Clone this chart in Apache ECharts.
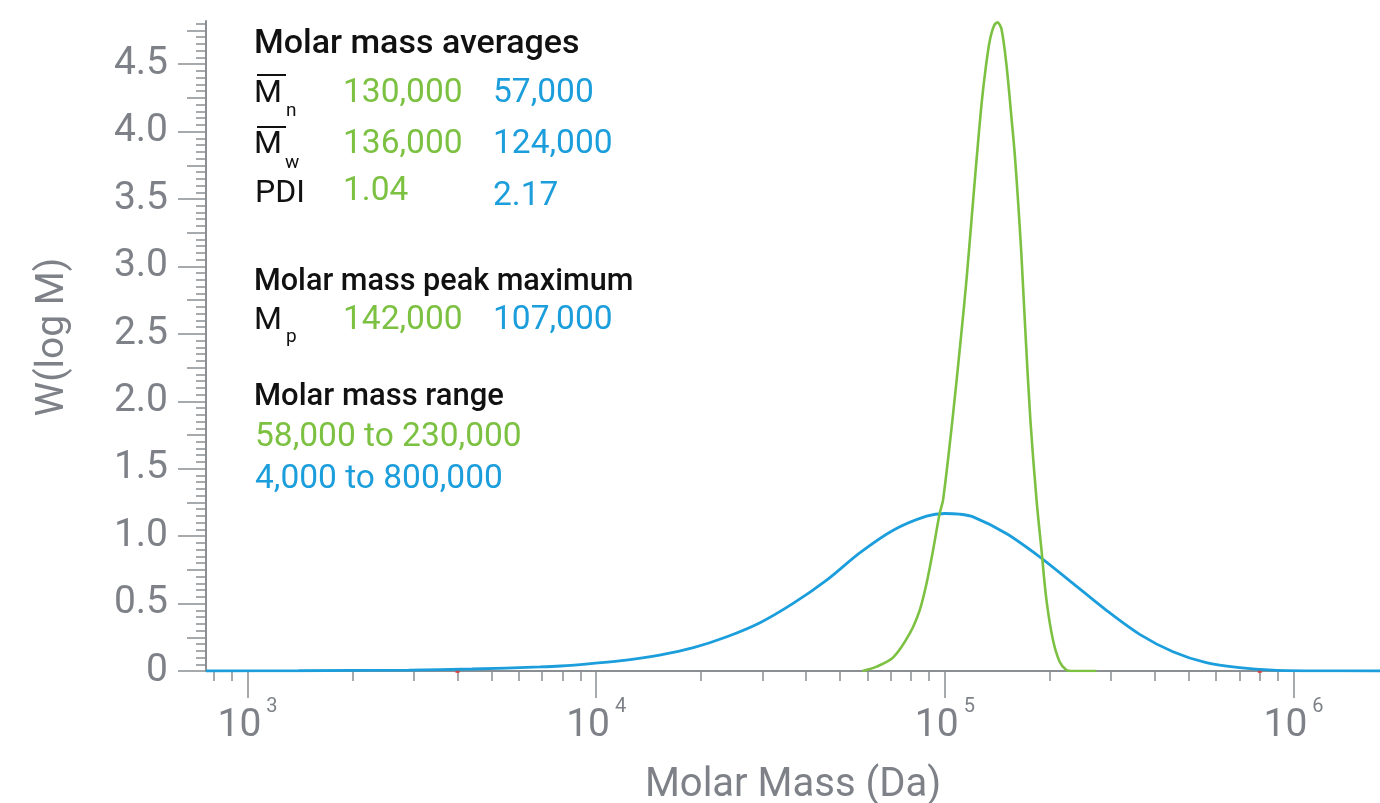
<!DOCTYPE html>
<html>
<head>
<meta charset="utf-8">
<script src="https://cdn.jsdelivr.net/npm/echarts@6/dist/echarts.min.js"></script>
<style>
  html, body { margin: 0; padding: 0; background: #ffffff; }
  #chart { width: 1380px; height: 803px; }
</style>
</head>
<body>
<div id="chart"></div>
<script>
// Molar mass distributions, W(log M) versus M (Da)
const narrowMass = [58000, 63700, 71100, 79300, 84700, 88600, 92500, 96600, 98800, 105000, 111100, 115300,
  119200, 123200, 127400, 131000, 134500, 138300, 141500, 145300, 150100, 155200, 158600, 162100,
  165700, 170600, 176000, 183200, 189300, 195600, 204200, 213400, 223000, 230000, 272000];
const narrowW = [0, 0.032, 0.101, 0.279, 0.452, 0.65, 0.896, 1.168, 1.267, 1.85, 2.464, 2.896,
  3.341, 3.785, 4.205, 4.476, 4.674, 4.785, 4.81, 4.76, 4.50, 4.106, 3.835, 3.489,
  3.094, 2.464, 1.85, 1.267, 0.896, 0.526, 0.23, 0.069, 0.007, 0, 0];

const broadMass = [760, 1400, 2900, 4400, 6900, 7900, 9800, 12200, 15200, 19000, 23700, 29500, 36700,
  45800, 57000, 71100, 88600, 100000, 110000, 120500, 150000, 187000, 233000, 290000, 362000,
  451000, 562000, 700000, 873000, 1190000, 1770000];
const broadW = [0, 0.002, 0.007, 0.015, 0.03, 0.037, 0.057, 0.081, 0.118, 0.173, 0.254, 0.358, 0.501,
  0.674, 0.876, 1.044, 1.148, 1.168, 1.163, 1.143, 1.02, 0.847, 0.65, 0.452, 0.272,
  0.143, 0.062, 0.025, 0.007, 0.001, 0];

// range limits marked on the baseline
const rangeMarks = [4000, 800000];

// axis extents and tick labels
const massMin = 760;
const massMax = 1770000;
const decadeExponents = [3, 4, 5, 6];
const yMax = 4.82;
const yMajorTicks = [0, 0.5, 1.0, 1.5, 2.0, 2.5, 3.0, 3.5, 4.0, 4.5];

// summary table values
const avgRows = [
  { sub: 'n', narrow: '130,000', broad: '57,000' },
  { sub: 'w', narrow: '136,000', broad: '124,000' }
];
const pdiValues = ['1.04', '2.17'];
const peakValues = ['142,000', '107,000'];
const rangeTexts = ['58,000 to 230,000', '4,000 to 800,000'];

const GREEN = '#7cc142';
const BLUE = '#1b9edb';
const GRAY = '#7e8288';
const AXIS = '#8b8e93';
const FONT = 'Roboto, "Noto Sans", sans-serif';

const lg = Math.log10;
const toPoints = (mass, w) => mass.map((m, i) => [lg(m), w[i]]);

// tick positions (log10 space for the mass axis)
const minorMass = [];
for (let e = 2; e <= 6; e++) {
  for (let k = 2; k <= 9; k++) {
    const v = k * Math.pow(10, e);
    if (v >= massMin && v <= massMax) minorMass.push(lg(v));
  }
}
const yMinor = [], yMid = [];
for (let i = 0; i * 0.05 <= yMax + 1e-9; i++) yMinor.push(+(i * 0.05).toFixed(2));
for (let i = 0; i * 0.25 <= yMax + 1e-9; i++) yMid.push(+(i * 0.25).toFixed(2));

const chart = echarts.init(document.getElementById('chart'), null, { renderer: 'canvas' });

const baseX = {
  type: 'value', min: lg(massMin), max: lg(massMax), position: 'bottom',
  splitLine: { show: false }
};
const baseY = {
  type: 'value', min: 0, max: yMax, position: 'left',
  splitLine: { show: false }
};

// text helper: y is the vertical centre of the glyph line
function txt(x, y, text, size, color, weight) {
  return {
    type: 'text', x: x, y: y, silent: true, z: 10,
    style: {
      text: text, fill: color, verticalAlign: 'middle', align: 'left',
      font: (weight || 400) + ' ' + size + 'px ' + FONT
    }
  };
}
function overline(x1, x2, y) {
  return {
    type: 'line', silent: true, z: 10,
    shape: { x1: x1, y1: y, x2: x2, y2: y },
    style: { stroke: '#111111', lineWidth: 2 }
  };
}

const VS = 33.5; // value text size
const graphics = [
  txt(254, 44, 'Molar mass averages', 34, '#111111', 500),
  overline(257, 286, 75),
  txt(254, 94, 'M', 32, '#111111'),
  txt(286, 111, avgRows[0].sub, 19, '#111111'),
  txt(343, 94, avgRows[0].narrow, VS, GREEN),
  txt(493, 94, avgRows[0].broad, VS, BLUE),
  overline(257, 286, 127),
  txt(254, 145, 'M', 32, '#111111'),
  txt(285, 163, avgRows[1].sub, 19, '#111111'),
  txt(343, 145, avgRows[1].narrow, VS, GREEN),
  txt(493, 145, avgRows[1].broad, VS, BLUE),
  txt(255, 194, 'PDI', 32, '#111111'),
  txt(343, 192, pdiValues[0], VS, GREEN),
  txt(493, 197, pdiValues[1], VS, BLUE),
  txt(254, 282, 'Molar mass peak maximum', 30.6, '#111111', 500),
  txt(254, 321, 'M', 32, '#111111'),
  txt(286, 337, 'p', 19, '#111111'),
  txt(343, 321, peakValues[0], VS, GREEN),
  txt(493, 321, peakValues[1], VS, BLUE),
  txt(254, 397, 'Molar mass range', 31, '#111111', 500),
  txt(255, 438, rangeTexts[0], VS, GREEN),
  txt(255, 480, rangeTexts[1], VS, BLUE)
];

chart.setOption({
  animation: false,
  backgroundColor: '#ffffff',
  textStyle: { fontFamily: FONT },
  grid: { left: 206, right: 0, top: 21, bottom: 132, containLabel: false, outerBoundsMode: 'none' },
  xAxis: [
    Object.assign({}, baseX, {
      name: 'Molar Mass (Da)', nameLocation: 'middle', nameGap: 95,
      nameTextStyle: { fontSize: 40, color: GRAY, fontFamily: FONT },
      axisLine: { show: true, lineStyle: { color: AXIS, width: 2 } },
      axisTick: { show: true, customValues: decadeExponents, length: 27, lineStyle: { color: AXIS, width: 1.5 } },
      axisLabel: {
        show: true, customValues: decadeExponents, margin: 26, color: GRAY,
        formatter: v => '{b|10}{s|' + Math.round(v) + '}',
        rich: {
          b: { fontSize: 39, color: GRAY, fontFamily: FONT, padding: [10, 0, 0, 0] },
          s: { fontSize: 20, color: GRAY, fontFamily: FONT, verticalAlign: 'top', padding: [0, 0, 0, 5] }
        }
      }
    }),
    Object.assign({}, baseX, {
      axisLine: { show: false },
      axisTick: { show: true, customValues: minorMass, length: 10, lineStyle: { color: AXIS, width: 1.5 } },
      axisLabel: { show: false }
    })
  ],
  yAxis: [
    Object.assign({}, baseY, {
      name: 'W(log M)', nameLocation: 'middle', nameGap: 133,
      nameTextStyle: { fontSize: 39, color: GRAY, fontFamily: FONT, padding: [0, 0, 0, 18] },
      axisLine: { show: true, lineStyle: { color: AXIS, width: 2 } },
      axisTick: { show: true, customValues: yMajorTicks, length: 28, lineStyle: { color: AXIS, width: 1.5 } },
      axisLabel: {
        show: true, customValues: yMajorTicks, margin: 38, color: GRAY, fontSize: 39, fontFamily: FONT,
        formatter: v => (v === 0 ? '0' : v.toFixed(1))
      }
    }),
    Object.assign({}, baseY, {
      axisLine: { show: false },
      axisTick: { show: true, customValues: yMid, length: 19, lineStyle: { color: AXIS, width: 1.5 } },
      axisLabel: { show: false }
    }),
    Object.assign({}, baseY, {
      axisLine: { show: false },
      axisTick: { show: true, customValues: yMinor, length: 10, lineStyle: { color: AXIS, width: 1.5 } },
      axisLabel: { show: false }
    })
  ],
  series: [
    {
      name: 'range limits', type: 'scatter', xAxisIndex: 0, yAxisIndex: 0, z: 1,
      symbol: 'rect', symbolSize: 4, itemStyle: { color: '#e5322d' },
      data: rangeMarks.map(m => [lg(m), 0]), silent: true
    },
    {
      name: 'broad', type: 'line', xAxisIndex: 0, yAxisIndex: 0, z: 2,
      data: toPoints(broadMass, broadW), smooth: 0.3,
      showSymbol: false, lineStyle: { color: BLUE, width: 2.8 }, itemStyle: { color: BLUE }
    },
    {
      name: 'narrow', type: 'line', xAxisIndex: 0, yAxisIndex: 0, z: 3,
      data: toPoints(narrowMass, narrowW), smooth: 0.3,
      showSymbol: false, lineStyle: { color: GREEN, width: 2.6 }, itemStyle: { color: GREEN }
    }
  ],
  graphic: graphics
});
</script>
</body>
</html>
